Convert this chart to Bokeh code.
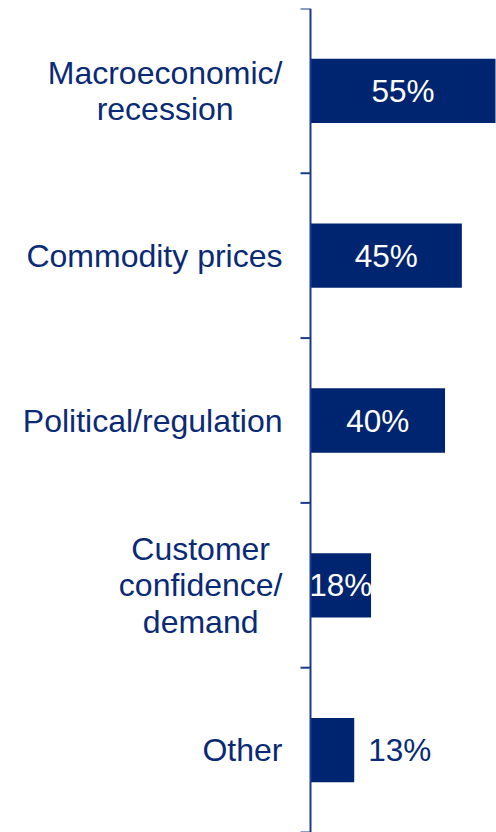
from bokeh.plotting import figure
from bokeh.models import Range1d, ColumnDataSource, Span
from bokeh.embed import file_html
from bokeh.resources import INLINE

categories = ["Macroeconomic/\nrecession", "Commodity prices", "Political/regulation",
              "Customer\nconfidence/\ndemand", "Other"]
values = [55, 45, 40, 18, 13]
value_labels = ["55%", "45%", "40%", "18%", "13%"]

NAVY = "#002570"
TEXT = "#0a2a76"
AXIS = "#1c3a8c"
FONT = "Liberation Sans"
FS = 32
W, H = 496, 832
AXIS_PX = 310          # screen position of the value axis
PX_PER_UNIT = 185 / 55  # horizontal scale
n = len(categories)
ypos = [n - i - 0.5 for i in range(n)]

# Arial / Liberation Sans advance widths (1/1000 em) for block-width estimation
ADV = {"M": 833, "a": 556, "c": 500, "r": 333, "o": 556, "e": 556, "n": 556, "m": 833,
       "i": 222, "/": 278, "s": 500, "C": 722, "d": 556, "t": 278, "y": 500, "p": 556,
       "P": 667, "l": 222, "g": 556, "u": 556, "f": 278, "O": 778, "h": 556, " ": 278}


def block_width(txt):
    return max(sum(ADV.get(ch, 556) for ch in line) for line in txt.split("\n")) * FS / 1000


inside = [v >= 15 for v in values]
src = ColumnDataSource(dict(y=ypos, v=values, lab=value_labels,
                            lx=[v / 2 if ins else v for v, ins in zip(values, inside)],
                            align=["center" if ins else "left" for ins in inside],
                            off=[0 if ins else 14 for ins in inside],
                            col=["white" if ins else TEXT for ins in inside]))

cat_src = ColumnDataSource(dict(y=ypos, cat=categories, x0=[0] * n,
                                xo=[-(28 + block_width(c) / 2) for c in categories]))

tick_len = 10 / PX_PER_UNIT
tick_src = ColumnDataSource(dict(y=list(range(n + 1)), x0=[0] * (n + 1), x1=[-tick_len] * (n + 1)))

x_lo = -AXIS_PX / PX_PER_UNIT
x_hi = (W - AXIS_PX) / PX_PER_UNIT
p = figure(width=W, height=H, output_backend="svg", toolbar_location=None,
           x_range=Range1d(x_lo, x_hi), y_range=Range1d(0, n),
           min_border_left=0, min_border_right=0, min_border_top=8, min_border_bottom=0)
p.outline_line_color = None
p.grid.visible = False
p.axis.visible = False

p.hbar(y="y", right="v", left=0, height=0.39, source=src, fill_color=NAVY, line_color=None)
p.add_layout(Span(location=0, dimension="height", line_color=AXIS, line_width=2))
p.segment(x0="x0", x1="x1", y0="y", y1="y", source=tick_src, line_color=AXIS, line_width=2)

p.text(x="lx", y="y", text="lab", source=src, text_align="align", text_baseline="middle",
       x_offset="off", text_color="col", text_font_size="31.5px",
       text_font={"value": FONT})
p.text(x="x0", y="y", text="cat", source=cat_src, x_offset="xo",
       text_align="center", text_baseline="middle", text_color=TEXT,
       text_font={"value": FONT}, text_font_size=f"{FS}px", text_line_height=1.02)

open("out.html", "w").write(file_html(p, INLINE))
